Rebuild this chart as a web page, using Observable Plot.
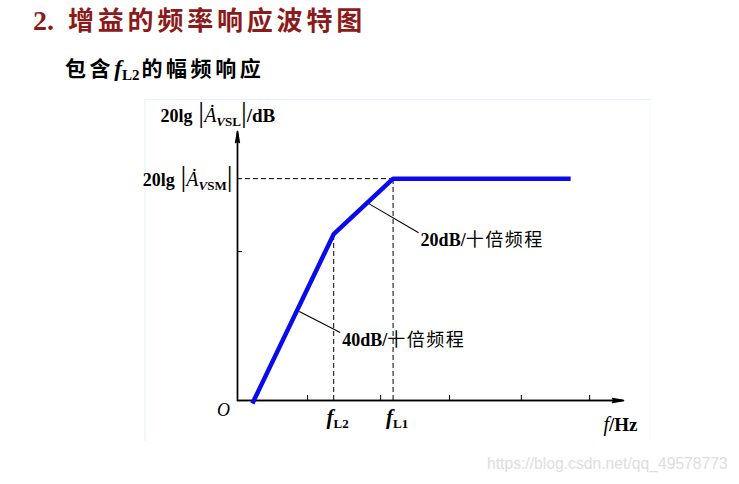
<!DOCTYPE html>
<html><head><meta charset="utf-8">
<script src="https://cdn.jsdelivr.net/npm/d3@7"></script>
<script src="https://cdn.jsdelivr.net/npm/@observablehq/plot@0.6"></script>
<style>
html,body{margin:0;padding:0;background:#fff;}
#wrap{position:relative;width:739px;height:484px;overflow:hidden;}
#title{position:absolute;left:33px;top:5px;height:32px;line-height:32px;font-family:"Liberation Serif","Noto Sans CJK SC",serif;font-weight:bold;font-size:26px;color:#8b1a1a;letter-spacing:3.8px;white-space:nowrap;}
#title .num{font-size:28px;letter-spacing:0;margin-right:14px;}
#subtitle{position:absolute;left:65px;top:53px;height:28px;line-height:28px;font-family:"Noto Sans CJK SC",sans-serif;font-weight:bold;font-size:21px;color:#000;letter-spacing:3.6px;white-space:nowrap;}
#subtitle .f{font-family:"Liberation Serif",serif;font-style:italic;font-size:23px;letter-spacing:0;}
#subtitle sub{font-family:"Liberation Serif",serif;font-size:15px;letter-spacing:0;vertical-align:-4px;line-height:0;margin-right:2px;}
#frame{position:absolute;left:144px;top:99px;width:504px;height:341px;border-top:1px solid #e4f5f9;border-left:2px solid #eef9fb;border-right:1px solid #f3fbfc;}
#chart{position:absolute;left:0;top:90px;}
#mark{position:absolute;left:487px;top:455px;font-family:"Liberation Sans",Arial,sans-serif;font-size:15.7px;color:#dedede;white-space:nowrap;}
</style></head>
<body><div id="wrap">
<div id="frame"></div>
<div id="title"><span class="num">2.</span>增益的频率响应波特图</div>
<div id="subtitle">包含<span class="f">f</span><sub>L2</sub>的幅频响应</div>
<div id="chart"></div>
<div id="mark">https://blog.csdn.net/qq_49578773</div>
</div>
<script>
// ---- data (schematic Bode magnitude plot) ----
const bodeLogF = [0.25, 1.62, 2.62, 5.61];   // position on the log-frequency axis (decades from O)
const bodeGain = [-1.1, 60, 80, 80];         // 20lg|A_VSL| in dB
const fL2 = 1.62;
const fL1 = 2.62;
const gainMid = 80;                          // 20lg|A_VSM|
const xMinorTicks = [1.18, 2.41, 3.57, 4.78, 5.93];
const yMinorTicks = [53.7];
const xAxisEnd = 6.5;
const yAxisEnd = 97;
const slopeNum = ["20dB/", "40dB/"];
const slopeCjk = ["十倍频程", "十倍频程"];
const leaderFromX = [2.21, 1.04];
const leaderFromY = [71.0, 32.1];
const leaderToX = [3.05, 1.73];
const leaderToY = [60.5, 24.5];

// ---- tables built from the arrays ----
const bode = bodeLogF.map((f, i) => ({f, g: bodeGain[i]}));
const leaders = slopeNum.map((s, i) => ({x1: leaderFromX[i], y1: leaderFromY[i], x2: leaderToX[i], y2: leaderToY[i], t: s + slopeCjk[i]}));
const axes = [{x1: 0, y1: 0, x2: xAxisEnd, y2: 0}, {x1: 0, y1: 0, x2: 0, y2: yAxisEnd}];
const corners = [{x: fL2, y: bodeGain[1]}, {x: fL1, y: gainMid}];

const serif = '"Liberation Serif","Times New Roman",serif';
const cjk = '"Noto Sans CJK SC",sans-serif';
const blue = "#0a0aee";

const plot = Plot.plot({
  width: 739, height: 394,
  marginLeft: 237, marginRight: 116, marginTop: 41, marginBottom: 84,
  x: {domain: [0, xAxisEnd], axis: null},
  y: {domain: [0, yAxisEnd], axis: null},
  style: {background: "transparent", overflow: "visible"},
  marks: [
    // dashed guides
    Plot.ruleY([gainMid], {x1: 0, x2: fL1, stroke: "#000", strokeWidth: 1, strokeDasharray: "5,3"}),
    Plot.ruleX(corners, {x: "x", y1: 0, y2: "y", stroke: "#000", strokeWidth: 1, strokeDasharray: "5,3"}),
    // small ticks
    Plot.ruleX(xMinorTicks, {y1: 0, y2: 1.8, stroke: "#000", strokeWidth: 1}),
    Plot.ruleY(yMinorTicks, {x1: 0, x2: 0.085, stroke: "#000", strokeWidth: 1}),
    // axes with arrows
    Plot.arrow(axes, {x1: "x1", y1: "y1", x2: "x2", y2: "y2", headLength: 12, headAngle: 20, stroke: "#000", strokeWidth: 1.4}),
    Plot.arrow(axes, {x1: "x1", y1: "y1", x2: "x2", y2: "y2", headLength: 11, headAngle: 10, stroke: "#000", strokeWidth: 1.4}),
    // leader lines
    Plot.link(leaders, {x1: "x1", y1: "y1", x2: "x2", y2: "y2", stroke: "#000", strokeWidth: 1.1}),
    // Bode asymptotes
    Plot.line(bode, {x: "f", y: "g", stroke: blue, strokeWidth: 4.5, strokeLinejoin: "miter", strokeLinecap: "butt"}),
    // slope labels
    Plot.text(leaders, {x: "x2", y: "y2", text: "t", textAnchor: "start", dx: 2, dy: 8, fontSize: 18, fontFamily: serif, ariaDescription: "slope-label"}),
    // axis labels
    Plot.text([{x: 0, y: yAxisEnd, t: "20lg|A VSL|/dB"}], {x: "x", y: "y", text: "t", textAnchor: "start", dx: -77, dy: -15, fontSize: 18, fontFamily: serif, ariaDescription: "ylabel-top"}),
    Plot.text([{x: 0, y: gainMid, t: "20lg|A VSM|"}], {x: "x", y: "y", text: "t", textAnchor: "end", dx: -5, dy: 2, fontSize: 18, fontFamily: serif, ariaDescription: "ylabel-mid"}),
    Plot.text([{x: 0, y: 0, t: "O"}], {x: "x", y: "y", text: "t", dx: -14, dy: 10, fontSize: 18, fontStyle: "italic", fontFamily: serif}),
    Plot.text([{x: fL2, y: 0, t: "L2"}, {x: fL1, y: 0, t: "L1"}], {x: "x", y: "y", text: "t", dx: 4, dy: 17, fontSize: 20, fontFamily: serif, ariaDescription: "f-label"}),
    Plot.text([{x: xAxisEnd, y: 0, t: "f/Hz"}], {x: "x", y: "y", text: "t", dx: -3, dy: 24, fontSize: 19, fontFamily: serif, ariaDescription: "x-label"})
  ]
});
document.getElementById("chart").appendChild(plot);

// ---- rich text (italics, subscripts, tall bars) ----
function rich(label, partsFor) {
  d3.select(plot).selectAll(`g[aria-description="${label}"] text`).each(function(d, i) {
    const t = d3.select(this);
    const txt = t.text();
    t.text(null);
    for (const [s, a] of partsFor(txt, i)) {
      const sp = t.append("tspan").text(s);
      for (const k in a) sp.attr(k, a[k]);
    }
  });
}
const bar = {"font-size": 29, "font-weight": "normal", "font-family": serif};
function ampParts(sub, tail) {
  const p = [
    ["20lg", {"font-weight": "bold", "font-size": 18}],
    ["\u2009|", bar],
    ["\u0226", {"font-style": "italic", "font-size": 20}],
    ["V", {"font-style": "italic", "font-weight": "bold", "font-size": 13, dy: 4}],
    [sub, {"font-weight": "bold", "font-size": 13}],
    ["|", Object.assign({dy: -4}, bar)]
  ];
  if (tail) p.push([tail, {"font-weight": "bold", "font-size": 19}]);
  return p;
}
rich("ylabel-top", () => ampParts("SL", "/dB"));
rich("ylabel-mid", () => ampParts("SM", null));
rich("f-label", (txt) => [
  ["f", {"font-style": "italic", "font-weight": "bold", "font-size": 21}],
  [txt, {"font-weight": "bold", "font-size": 13, dy: 4}]
]);
rich("x-label", () => [
  ["f", {"font-style": "italic", "font-size": 20}],
  ["/Hz", {"font-weight": "bold", "font-size": 19}]
]);
rich("slope-label", (txt, i) => [
  [slopeNum[i], {"font-weight": "bold", "font-size": 18, "font-family": serif}],
  [slopeCjk[i], {"font-size": 18, "font-family": cjk, "letter-spacing": 1.5}]
]);
</script>
</body></html>
